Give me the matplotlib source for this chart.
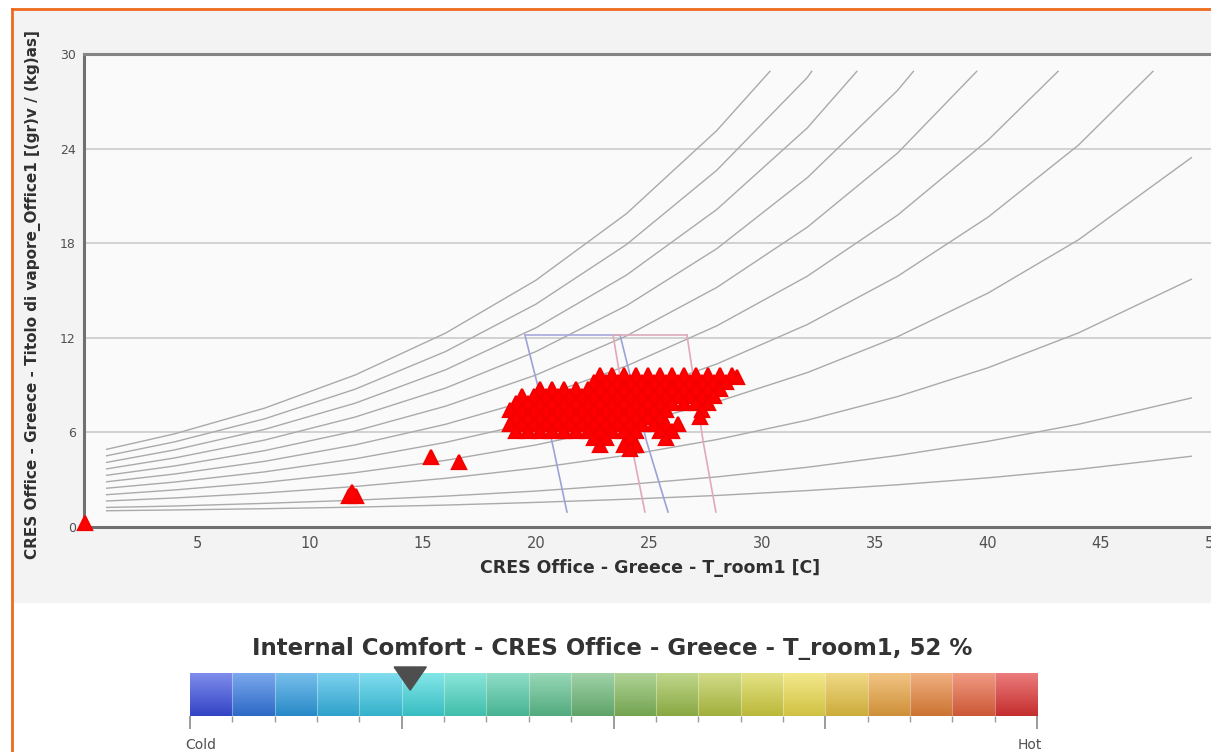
import numpy as np
import matplotlib.pyplot as plt
from matplotlib.colors import to_rgb

# relative humidity curves, vapour content read at these room temperatures
t_curve = [1, 4, 8, 12, 16, 20, 24, 28, 32, 36, 40, 44, 49]
rh100 = [4.90, 5.88, 7.52, 9.62, 12.28, 15.64, 19.86, 25.14]
rh90 = [4.49, 5.37, 6.84, 8.72, 11.11, 14.12, 17.90, 22.62, 28.50]
rh80 = [4.07, 4.86, 6.17, 7.83, 9.95, 12.62, 15.96, 20.13, 25.30]
rh70 = [3.66, 4.35, 5.49, 6.95, 8.79, 11.11, 14.02, 17.64, 22.14, 27.69]
rh60 = [3.25, 3.84, 4.82, 6.06, 7.64, 9.62, 12.10, 15.18, 19.00, 23.71]
rh50 = [2.84, 3.33, 4.14, 5.18, 6.49, 8.13, 10.19, 12.74, 15.89, 19.77, 24.53]
rh40 = [2.43, 2.82, 3.47, 4.30, 5.34, 6.65, 8.29, 10.32, 12.82, 15.89, 19.64, 24.21]
rh30 = [2.02, 2.32, 2.80, 3.42, 4.20, 5.18, 6.40, 7.91, 9.77, 12.05, 14.82, 18.20, 23.42]
rh20 = [1.62, 1.81, 2.13, 2.54, 3.06, 3.71, 4.52, 5.52, 6.75, 8.25, 10.08, 12.29, 15.70]
rh10 = [1.21, 1.30, 1.47, 1.67, 1.93, 2.25, 2.66, 3.15, 3.76, 4.51, 5.41, 6.49, 8.16]
rh05 = [1.00, 1.05, 1.13, 1.23, 1.36, 1.53, 1.73, 1.97, 2.28, 2.65, 3.09, 3.63, 4.46]
# where the upper curves leave the chart
top_end_t = [30.35, 32.2, 34.2, 36.7, 39.5, 43.1, 47.3]
top_end_w = 28.9

# comfort zones (winter blue, summer pink)
winter_left = ([19.51, 20.71, 21.37], [12.15, 5.37, 0.92])
winter_right = ([23.72, 24.90, 25.84], [12.15, 5.37, 0.92])
summer_left = ([23.41, 24.20, 24.82], [12.15, 5.37, 0.92])
summer_right = ([26.68, 27.40, 27.96], [12.15, 5.37, 0.92])

# hourly points T_room1 [C] / vapour content
t_room = [0.05, 11.73, 12.04, 11.86, 15.35, 16.59, 28.89,
          22.83, 23.36, 23.89, 24.42, 24.96, 25.49, 26.02, 26.55, 27.08, 27.61, 28.14, 28.67,
          22.57, 23.10, 23.63, 24.16, 24.69, 25.22, 25.75, 26.28, 26.81, 27.35, 27.88, 28.41,
          20.18, 20.71, 21.24, 21.77, 22.30, 22.83, 23.36, 23.89, 24.42, 24.96, 25.49, 26.02,
          26.55, 27.08, 27.61, 28.14,
          19.38, 19.91, 20.44, 20.97, 21.50, 22.04, 22.57, 23.10, 23.63, 24.16, 24.69, 25.22,
          25.75, 26.28, 26.81, 27.35, 27.88,
          19.12, 19.65, 20.18, 20.71, 21.24, 21.77, 22.30, 22.83, 23.36, 23.89, 24.42, 24.96,
          25.49, 26.02, 26.55, 27.08, 27.61,
          18.85, 19.38, 19.91, 20.44, 20.97, 21.50, 22.04, 22.57, 23.10, 23.63, 24.16, 24.69,
          25.22, 25.75, 27.35,
          19.12, 19.65, 20.18, 20.71, 21.24, 21.77, 22.30, 22.83, 23.36, 23.89, 24.42, 24.96,
          25.49, 27.26,
          18.85, 19.38, 19.91, 20.44, 20.97, 21.50, 22.04, 22.57, 23.10, 23.63, 24.16, 24.69,
          25.22, 25.75, 26.28,
          19.12, 19.65, 20.18, 20.71, 21.24, 21.77, 22.30, 22.83, 23.36, 23.89, 24.42, 25.49,
          26.02,
          22.57, 23.10, 24.16, 25.75,
          22.83, 23.89, 24.42,
          24.16]
x_vap = [0.20, 1.94, 1.94, 2.19, 4.41, 4.10, 9.49,
         9.62, 9.62, 9.62, 9.62, 9.62, 9.62, 9.62, 9.62, 9.62, 9.62, 9.62, 9.62,
         9.17, 9.17, 9.17, 9.17, 9.17, 9.17, 9.17, 9.17, 9.17, 9.17, 9.17, 9.17,
         8.73, 8.73, 8.73, 8.73, 8.73, 8.73, 8.73, 8.73, 8.73, 8.73, 8.73, 8.73,
         8.73, 8.73, 8.73, 8.73,
         8.29, 8.29, 8.29, 8.29, 8.29, 8.29, 8.29, 8.29, 8.29, 8.29, 8.29, 8.29,
         8.29, 8.29, 8.29, 8.29, 8.29,
         7.84, 7.84, 7.84, 7.84, 7.84, 7.84, 7.84, 7.84, 7.84, 7.84, 7.84, 7.84,
         7.84, 7.84, 7.84, 7.84, 7.84,
         7.40, 7.40, 7.40, 7.40, 7.40, 7.40, 7.40, 7.40, 7.40, 7.40, 7.40, 7.40,
         7.40, 7.40, 7.40,
         6.95, 6.95, 6.95, 6.95, 6.95, 6.95, 6.95, 6.95, 6.95, 6.95, 6.95, 6.95,
         6.95, 6.95,
         6.51, 6.51, 6.51, 6.51, 6.51, 6.51, 6.51, 6.51, 6.51, 6.51, 6.51, 6.51,
         6.51, 6.51, 6.51,
         6.06, 6.06, 6.06, 6.06, 6.06, 6.06, 6.06, 6.06, 6.06, 6.06, 6.06, 6.06,
         6.06,
         5.62, 5.62, 5.62, 5.62,
         5.17, 5.17, 5.17,
         4.92]

# comfort scale
scale_colors = ['#3a4ee0', '#3478e2', '#2e9ce2', '#36b8e6', '#3ccae6', '#40d8dc',
                '#4ad8c4', '#52cca8', '#5ec290', '#6cba78', '#84ba5c', '#9cc04c',
                '#b8c846', '#d4d242', '#ecdc4c', '#e8c444', '#eaa440', '#e8843a',
                '#e8643e', '#e03434']
comfort_mark = 0.26

fig = plt.figure(figsize=(12.11, 7.52), dpi=100)
fig.patch.set_facecolor('white')

# panel and orange frame
fig.patches.append(plt.Rectangle((14 / 1211, 1 - 602 / 752), 1, 591 / 752,
                                 transform=fig.transFigure, color='#f3f3f3', zorder=-5))
fig.add_artist(plt.Line2D([12 / 1211, 12 / 1211], [0, 1 - 9 / 752], color='#ee6a1c', lw=2,
                          transform=fig.transFigure))
fig.add_artist(plt.Line2D([12 / 1211, 1], [1 - 9 / 752, 1 - 9 / 752], color='#ee6a1c', lw=2,
                          transform=fig.transFigure))

ax = fig.add_axes([84 / 1211, 1 - 526.5 / 752, 1130 / 1211, 472.5 / 752])
ax.set_facecolor('#fafafa')
ax.set_xlim(0, 50)
ax.set_ylim(0, 30)

for yg in [6, 12, 18, 24]:
    ax.axhline(yg, color='#c6c6c6', lw=1.1, zorder=1)

curves = [rh100, rh90, rh80, rh70, rh60, rh50, rh40, rh30, rh20, rh10, rh05]
for i, w in enumerate(curves):
    xs = t_curve[:len(w)]
    ys = list(w)
    if i < len(top_end_t):
        xs = xs + [top_end_t[i]]
        ys = ys + [top_end_w]
    ax.plot(xs, ys, color='#aaaaaa', lw=1.0, zorder=2)

for xs, ys in [winter_left, winter_right]:
    ax.plot(xs, ys, color='#9ca2d8', lw=1.2, zorder=2)
for xs, ys in [summer_left, summer_right]:
    ax.plot(xs, ys, color='#e2a8b8', lw=1.2, zorder=2)
ax.plot([winter_left[0][0], winter_right[0][0]], [12.15, 12.15], color='#a8a8dc', lw=1.2, zorder=2)
ax.plot([summer_left[0][0], summer_right[0][0]], [12.15, 12.15], color='#dcaabc', lw=1.2, zorder=2)

ax.plot(t_room, x_vap, ls='none', marker='^', ms=9.5, color='#ff0000', mec='#f40000', mew=1.6,
        zorder=4, clip_on=False)

for side in ['left', 'bottom', 'top']:
    ax.spines[side].set_color('#707070')
    ax.spines[side].set_linewidth(2.2)
ax.spines['top'].set_color('#858585')
ax.spines['right'].set_visible(False)

ax.set_xticks([5, 10, 15, 20, 25, 30, 35, 40, 45, 50])
ax.set_yticks([0, 6, 12, 18, 24, 30])
ax.tick_params(axis='both', length=0, labelcolor='#505050')
ax.tick_params(axis='x', pad=7, labelsize=10.5)
ax.tick_params(axis='y', pad=6, labelsize=9)

fig.text(650 / 1211, 1 - 568 / 752, 'CRES Office - Greece - T_room1 [C]', ha='center', va='center',
         fontsize=12.5, fontweight='bold', color='#303030')
fig.text(33 / 1211, 1 - 295 / 752,
         'CRES Office - Greece - Titolo di vapore_Office1 [(gr)v / (kg)as]',
         ha='center', va='center', rotation=90, fontsize=11, fontweight='bold', color='#303030')

# comfort scale bar
fig.text(612 / 1211, 1 - 648 / 752, 'Internal Comfort - CRES Office - Greece - T_room1, 52 %',
         ha='center', va='center', fontsize=16.5, fontweight='bold', color='#333333')
cax = fig.add_axes([190 / 1211, 1 - 716 / 752, 847 / 1211, 43 / 752])
n = len(scale_colors)
for i, c in enumerate(scale_colors):
    base = np.array(to_rgb(c))
    top = base + (1 - base) * 0.35
    bot = base * 0.88
    grad = np.linspace(0, 1, 32)[:, None, None]
    img = top * (1 - grad) + bot * grad
    cax.imshow(img, extent=(i / n, (i + 1) / n, 0, 1), aspect='auto', interpolation='bilinear')
    if i > 0:
        cax.axvline(i / n, color='white', lw=0.8, alpha=0.35)
cax.set_xlim(0, 1)
cax.set_ylim(0, 1)
for s in cax.spines.values():
    s.set_visible(False)
cax.set_yticks([])
cax.set_xticks([0, 0.25, 0.5, 0.75, 1.0])
cax.set_xticks(np.arange(0, 1.0001, 0.05), minor=True)
cax.tick_params(axis='x', which='major', length=9, width=1.2, color='#8a8a8a', labelbottom=False)
cax.tick_params(axis='x', which='minor', length=4, width=1.0, color='#9a9a9a')
cax.fill([comfort_mark - 0.019, comfort_mark + 0.019, comfort_mark], [1.14, 1.14, 0.6],
         color='#4e4e4e', clip_on=False, zorder=5)

fig.text(201 / 1211, 1 - 745 / 752, 'Cold', ha='center', va='center', fontsize=10, color='#505050')
fig.text(1030 / 1211, 1 - 745 / 752, 'Hot', ha='center', va='center', fontsize=10, color='#505050')

fig.savefig('out.png', dpi=100)
